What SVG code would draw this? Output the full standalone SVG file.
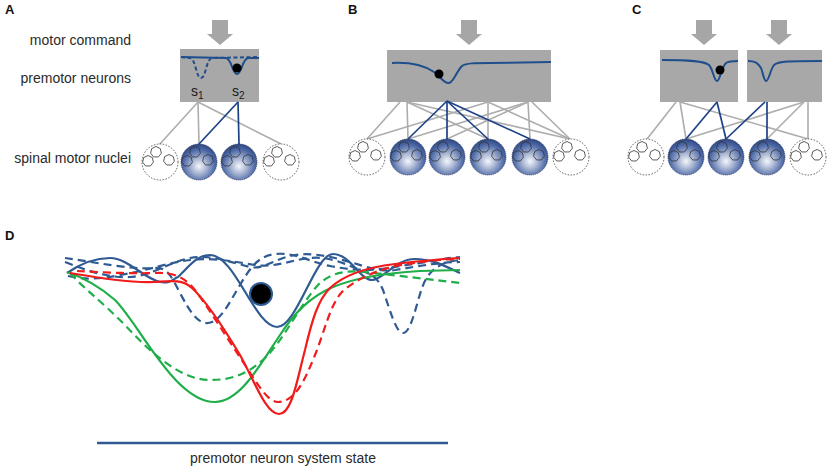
<svg xmlns="http://www.w3.org/2000/svg" width="828" height="470" viewBox="0 0 828 470">
<style>
.lbl{font-family:"Liberation Sans",Arial,sans-serif;font-size:14px;fill:#2a2a2a}
.pl{font-family:"Liberation Sans",Arial,sans-serif;font-size:13px;font-weight:bold;fill:#111}
.sub{font-family:"Liberation Sans",Arial,sans-serif;font-size:14px;fill:#1a1a1a}
.box{fill:#a8a8a8}
.arrow{fill:#a6a6a6}
.gl{stroke:#adadad;stroke-width:1.6;fill:none}
.bl{stroke:#1d4287;stroke-width:1.7;fill:none}
.cv{stroke:#1f4e8c;stroke-width:2;fill:none}
.cvd{stroke:#1f4e8c;stroke-width:2;fill:none;stroke-dasharray:4 2.5}
.dot{fill:#000}
.sph{fill:url(#sg);stroke:#2a3555;stroke-width:0.7;stroke-dasharray:1.2 0.8}
.emp{fill:#fff;stroke:#333;stroke-width:0.8;stroke-dasharray:1.5 1.5}
.cell{fill:none;stroke:#333;stroke-width:0.8}
.db{stroke:#2f5b92;stroke-width:2.2;fill:none}
.dbd{stroke:#2f5b92;stroke-width:2.2;fill:none;stroke-dasharray:8 5}
.dr{stroke:#f01c1c;stroke-width:2.2;fill:none}
.drd{stroke:#f01c1c;stroke-width:2.2;fill:none;stroke-dasharray:8 5}
.dg{stroke:#1fae4a;stroke-width:2.2;fill:none}
.dgd{stroke:#1fae4a;stroke-width:2.2;fill:none;stroke-dasharray:8 5}
</style>
<defs>
<radialGradient id="sg" cx="0.5" cy="0.6" r="0.6" fx="0.5" fy="0.62">
<stop offset="0" stop-color="#f4f6fb"/>
<stop offset="0.35" stop-color="#aab7d4"/>
<stop offset="0.75" stop-color="#4d69a7"/>
<stop offset="1" stop-color="#2c4682"/>
</radialGradient>
<path id="arr" class="arrow" d="M-8,20 h16 v14 h5 l-13,11 l-13,-11 h5 z"/>
<g id="cells">
<polygon class="cell" transform="translate(-4,-10)" points="0,-5.5 4.3,-3.43 5.36,1.22 2.39,4.96 -2.39,4.96 -5.36,1.22 -4.3,-3.43"/>
<polygon class="cell" transform="translate(-12,-1)" points="0,-5.5 4.3,-3.43 5.36,1.22 2.39,4.96 -2.39,4.96 -5.36,1.22 -4.3,-3.43"/>
<polygon class="cell" transform="translate(9,-2)" points="0,-5.5 4.3,-3.43 5.36,1.22 2.39,4.96 -2.39,4.96 -5.36,1.22 -4.3,-3.43"/>
</g>
<g id="full"><circle class="sph" r="18"/><use href="#cells"/></g>
<g id="empty"><circle class="emp" r="18"/><use href="#cells"/></g>
</defs>
<rect width="828" height="470" fill="#fff"/>

<!-- Panel A -->
<g id="panelA">
<text class="pl" x="5" y="14">A</text>
<text class="lbl" x="131" y="45" text-anchor="end">motor command</text>
<text class="lbl" x="131" y="83" text-anchor="end">premotor neurons</text>
<text class="lbl" x="131" y="163" text-anchor="end">spinal motor nuclei</text>
</g>
<g id="A-arrow"><use href="#arr" x="220"/></g>
<g id="A-premotor">
<rect class="box" x="180" y="49" width="79" height="53"/>
<path class="cvd" d="M181,57 L190,58 C196,59 196,78 201,78 C206,78 206,59 212,58 L259,57"/>
<path class="cv" d="M181,57 L226,58 C232,59 232,74 237,74 C242,74 242,59 248,58 L259,58"/>
<circle class="dot" cx="237" cy="68" r="4.5"/>
<text class="sub" x="191" y="96">s<tspan font-size="10" dy="3">1</tspan></text>
<text class="sub" x="232" y="96">s<tspan font-size="10" dy="3">2</tspan></text>
</g>
<g id="A-connectors">
<line class="gl" x1="198" y1="102" x2="159" y2="145"/>
<line class="gl" x1="198" y1="102" x2="199" y2="144"/>
<line class="gl" x1="198" y1="102" x2="281" y2="144"/>
<line class="bl" x1="238" y1="102" x2="199" y2="144"/>
<line class="bl" x1="238" y1="102" x2="239" y2="144"/>
</g>
<g id="A-nuclei">
<use href="#empty" x="160" y="162"/>
<use href="#full" x="199" y="162"/>
<use href="#full" x="239" y="162"/>
<use href="#empty" x="281" y="162"/>
</g>

<!-- Panel B -->
<g id="panelB"><text class="pl" x="348" y="14">B</text></g>
<g id="B-arrow"><use href="#arr" x="469"/></g>
<g id="B-premotor">
<rect class="box" x="387" y="50" width="164" height="52"/>
<path class="cv" d="M392,63 C412,62 425,66 434,72 C441,77 444,84 449,83 C454,82 456,72 462,66 C466,63 475,63 490,63 L551,62"/>
<circle class="dot" cx="439" cy="74" r="4.5"/>
</g>
<g id="B-connectors">
<line class="gl" x1="400" y1="102" x2="367" y2="139"/>
<line class="gl" x1="407" y1="102" x2="408" y2="139"/>
<line class="gl" x1="407" y1="102" x2="488" y2="139"/>
<line class="gl" x1="407" y1="102" x2="570" y2="139"/>
<line class="gl" x1="488" y1="102" x2="367" y2="139"/>
<line class="gl" x1="488" y1="102" x2="488" y2="139"/>
<line class="gl" x1="488" y1="102" x2="570" y2="139"/>
<line class="gl" x1="528" y1="102" x2="408" y2="139"/>
<line class="gl" x1="528" y1="102" x2="447" y2="139"/>
<line class="gl" x1="528" y1="102" x2="530" y2="139"/>
<line class="gl" x1="532" y1="102" x2="570" y2="139"/>
<line class="bl" x1="447" y1="101" x2="408" y2="139"/>
<line class="bl" x1="447" y1="101" x2="447" y2="139"/>
<line class="bl" x1="447" y1="101" x2="488" y2="139"/>
<line class="bl" x1="447" y1="101" x2="530" y2="139"/>
</g>
<g id="B-nuclei">
<use href="#empty" x="367" y="157"/>
<use href="#full" x="408" y="157"/>
<use href="#full" x="447" y="157"/>
<use href="#full" x="488" y="157"/>
<use href="#full" x="530" y="157"/>
<use href="#empty" x="571" y="157"/>
</g>

<!-- Panel C -->
<g id="panelC"><text class="pl" x="632" y="14">C</text></g>
<g id="C-arrows"><use href="#arr" x="704"/><use href="#arr" x="779"/></g>
<g id="C-premotor1">
<rect class="box" x="660" y="50" width="78" height="52"/>
<path class="cv" d="M662,60 C690,60 704,61 709,65 C713,69 714,81 717,81 C720,81 721,68 726,63 C729,61 733,61 738,61"/>
<circle class="dot" cx="720" cy="70" r="4.5"/>
</g>
<g id="C-premotor2">
<rect class="box" x="747" y="50" width="75" height="52"/>
<path class="cv" d="M748,61 C755,61 758,63 761,68 C763,73 764,81 766,81 C769,81 770,70 774,65 C778,61 790,61 822,61"/>
</g>
<g id="C-connectors">
<line class="gl" x1="676" y1="102" x2="647" y2="139"/>
<line class="gl" x1="680" y1="102" x2="686" y2="139"/>
<line class="gl" x1="680" y1="102" x2="808" y2="139"/>
<line class="gl" x1="804" y1="102" x2="686" y2="139"/>
<line class="gl" x1="804" y1="102" x2="767" y2="139"/>
<line class="gl" x1="808" y1="102" x2="808" y2="139"/>
<line class="bl" x1="717" y1="102" x2="686" y2="139"/>
<line class="bl" x1="717" y1="102" x2="726" y2="139"/>
<line class="bl" x1="765" y1="102" x2="726" y2="139"/>
<line class="bl" x1="767" y1="102" x2="767" y2="139"/>
</g>
<g id="C-nuclei">
<use href="#empty" x="646" y="157"/>
<use href="#full" x="686" y="157"/>
<use href="#full" x="726" y="157"/>
<use href="#full" x="767" y="157"/>
<use href="#empty" x="808" y="157"/>
</g>

<!-- Panel D -->
<g id="panelD">
<text class="pl" x="5" y="240">D</text>
<path class="dbd" d="M65,258 C95,262 130,270 155,268 C168,267 172,278 180,293 C190,312 198,324 208,323 C220,322 228,305 240,285 C250,268 258,256 275,254 C295,252 310,262 330,266 C360,272 380,270 400,266 C430,262 445,258 460,257"/>
<path class="dbd" d="M68,276 C85,280 100,279 120,275 C150,270 170,262 190,260 C215,257 235,262 255,265 C275,268 290,260 310,258 C330,256 345,264 360,270 C372,274 378,278 383,290 C390,310 396,333 403,333 C411,333 416,305 422,288 C428,270 440,262 460,260"/>
<path class="dbd" d="M65,262 C90,272 110,278 130,277 C150,276 170,262 190,258 C210,254 230,262 250,267 C265,270 275,258 295,255 C315,252 335,258 350,262 C370,268 380,272 395,270 C420,266 440,262 460,262"/>
<path class="db" d="M67,273 C80,264 95,258 110,258 C128,258 143,278 160,282 C170,284 173,279 178,277 C188,268 196,255 210,255 C235,255 255,327 277,327 C297,327 315,254 333,254 C350,254 360,280 372,280 C383,280 395,259 415,259 C432,259 445,266 460,273"/>
<path class="dgd" d="M70,273 C80,285 100,300 125,325 C150,352 180,380 210,380 C235,380 250,372 265,358 C285,338 300,305 318,285 C330,273 345,270 365,272 C400,276 435,280 460,283"/>
<path class="dg" d="M67,272 C85,278 100,287 115,300 C140,325 175,402 215,402 C240,402 260,365 280,335 C295,312 310,297 333,287 C355,278 385,273 420,271 L460,270"/>
<path class="drd" d="M77,271 C100,272 130,274 155,273 C175,272 185,278 195,290 C210,310 225,335 245,365 C258,385 268,402 278,402 C295,402 305,380 315,355 C325,330 330,305 342,292 C355,280 372,272 395,266 C425,261 445,259 460,259"/>
<path class="dr" d="M70,273 C100,278 130,283 155,282 C170,281 182,279 192,288 C205,300 222,325 240,355 C255,382 266,414 279,414 C292,414 297,380 305,350 C312,320 318,300 330,288 C345,274 370,267 395,264 C420,261 440,259 460,258"/>
<circle cx="261" cy="294" r="11" fill="#000" stroke="#2f5b92" stroke-width="2"/>
<line x1="97" y1="443" x2="448" y2="443" stroke="#2f5b92" stroke-width="2.5"/>
<text class="lbl" x="283" y="463" text-anchor="middle">premotor neuron system state</text>
</g>
</svg>
